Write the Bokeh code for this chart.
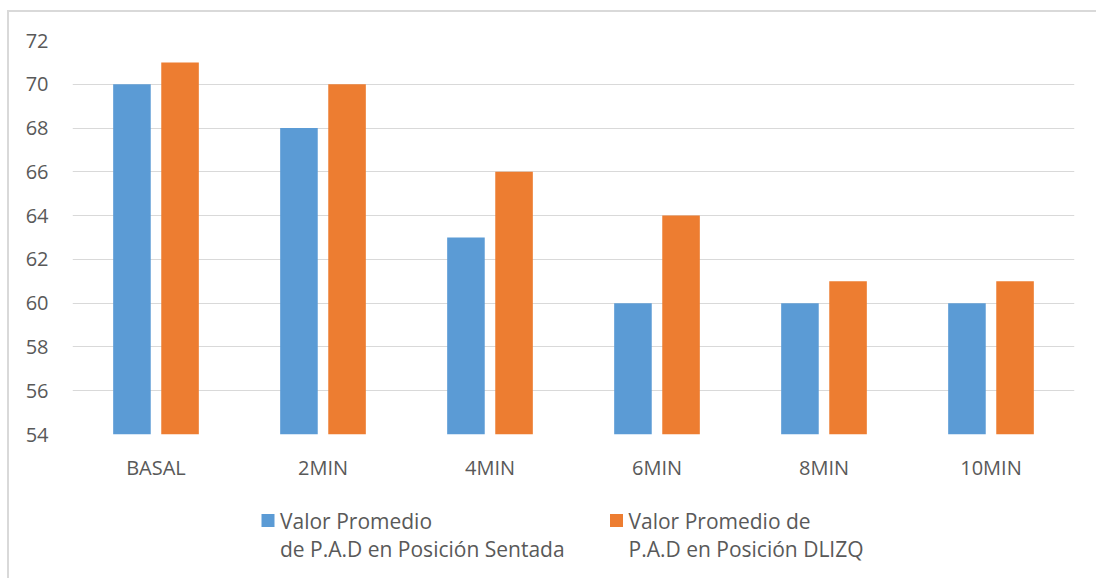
from bokeh.plotting import figure
from bokeh.layouts import column
from bokeh.models import FactorRange, Range1d, FixedTicker
from bokeh.core.properties import value
from bokeh.transform import dodge
from bokeh.embed import file_html
from bokeh.resources import INLINE

categories = ["BASAL", "2MIN", "4MIN", "6MIN", "8MIN", "10MIN"]
sentada = [70, 68, 63, 60, 60, 60]
dlizq = [71, 70, 66, 64, 61, 61]
y_ticks = [54, 56, 58, 60, 62, 64, 66, 68, 70, 72]
label_line1 = ["Valor Promedio", "Valor Promedio de"]
label_line2 = ["de P.A.D en Posición Sentada", "P.A.D en Posición DLIZQ"]
colors = ["#5B9BD5", "#ED7D31"]

FONT = "Open Sans"
TXT = "#595959"
W = 1087
BL, BR = 63, 22

p = figure(width=W, height=478, x_range=FactorRange(*categories),
           y_range=Range1d(54, 72), output_backend="svg", toolbar_location=None,
           min_border_left=BL, min_border_right=BR, min_border_top=28,
           min_border_bottom=56)

src = dict(cat=categories, s=sentada, d=dlizq)
p.vbar(x=dodge("cat", -0.144, range=p.x_range), top="s", bottom=54, width=0.225,
       source=src, fill_color=colors[0], line_color=None)
p.vbar(x=dodge("cat", 0.144, range=p.x_range), top="d", bottom=54, width=0.225,
       source=src, fill_color=colors[1], line_color=None)

p.outline_line_color = None
p.xgrid.grid_line_color = None
p.ygrid.grid_line_color = "#d9d9d9"
p.ygrid.grid_line_width = 1
p.yaxis.ticker = FixedTicker(ticks=y_ticks)
for ax in (p.xaxis, p.yaxis):
    ax.axis_line_color = None
    ax.major_tick_line_color = None
    ax.minor_tick_line_color = None
    ax.major_tick_out = 0
    ax.major_tick_in = 0
    ax.major_label_text_font = FONT
    ax.major_label_text_font_size = "20px"
    ax.major_label_text_color = TXT
p.yaxis.major_label_standoff = 24
p.xaxis.major_label_standoff = 19

# legend drawn in its own strip below the chart (canvas-pixel coordinates)
LH = 88
lg = figure(width=W, height=LH, x_range=Range1d(BL, W - BR), y_range=Range1d(LH, 0),
            output_backend="svg", toolbar_location=None,
            min_border_left=BL, min_border_right=BR, min_border_top=0, min_border_bottom=0)
lg.axis.visible = False
lg.grid.visible = False
lg.outline_line_color = None

sq_x = [258.5, 607]
tx_x = [270.5, 619]
lg.rect(x=sq_x, y=[30, 30], width=13, height=13, fill_color=colors, line_color=None)
lg.text(x=tx_x, y=[30, 30], text=label_line1, text_font=value(FONT),
        text_font_size="21px", text_color=TXT, text_baseline="middle", text_align="left")
lg.text(x=tx_x, y=[58.5, 58.5], text=label_line2, text_font=value(FONT),
        text_font_size="21px", text_color=TXT, text_baseline="middle", text_align="left")

layout = column(p, lg, spacing=0, margin=(10, 0, 0, 7),
                styles={"border-left": "2px solid #d9d9d9", "border-top": "2px solid #d9d9d9"})

open("out.html", "w").write(file_html(layout, INLINE))
